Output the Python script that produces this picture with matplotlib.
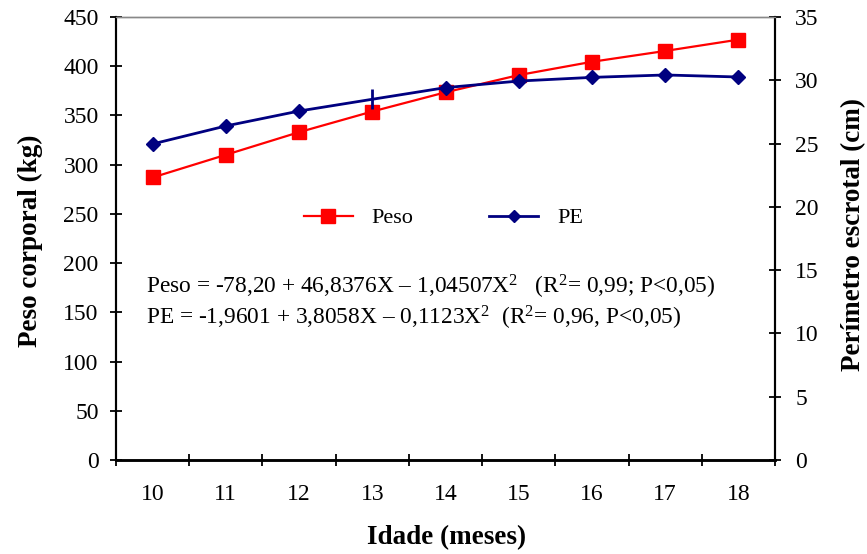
import matplotlib
matplotlib.use("Agg")
import matplotlib.pyplot as plt
import numpy as np

idade = [10, 11, 12, 13, 14, 15, 16, 17, 18]
peso = [287, 310, 333, 354, 373.5, 391, 404.5, 415.5, 427]
pe = [24.97, 26.39, 27.57, 28.5, 29.42, 29.94, 30.23, 30.42, 30.26]
pe_marker = ['D', 'D', 'D', '|', 'D', 'D', 'D', 'D', 'D']
eq_peso = "Peso = -78,20 + 46,8376X – 1,04507X$^{2}$   (R$^{2}$= 0,99; P<0,05)"
eq_pe = "PE = -1,9601 + 3,8058X – 0,1123X$^{2}$  (R$^{2}$= 0,96, P<0,05)"

plt.rcParams['font.family'] = ['Liberation Serif', 'DejaVu Serif']
plt.rcParams['mathtext.fontset'] = 'custom'
plt.rcParams['mathtext.rm'] = 'Liberation Serif'
plt.rcParams['mathtext.it'] = 'Liberation Serif'

RED = '#FF0000'
NAVY = '#000080'

fig = plt.figure(figsize=(8.67, 5.54), dpi=100)
ax = fig.add_axes([116/867, 1-460/554, (775-116)/867, (460-17)/554])
ax2 = ax.twinx()

l1, = ax.plot(idade, peso, color=RED, marker='s', markersize=10, lw=1.6, label='Peso', zorder=3)
ax2.plot(idade, pe, color=NAVY, lw=2.0, zorder=3)
for xv, yv, m in zip(idade, pe, pe_marker):
    if m == '|':
        ax2.plot([xv], [yv], marker='|', color=NAVY, markersize=14, mew=2, zorder=4)
    else:
        ax2.plot([xv], [yv], marker=m, color=NAVY, markersize=7.5, zorder=4)
l2, = ax2.plot([], [], color=NAVY, marker='D', markersize=6.5, lw=2.0, label='PE')

ax.set_xlim(9.5, 18.5)
ax.set_ylim(0, 450)
ax2.set_ylim(0, 35)
ax.set_yticks(np.arange(0, 451, 50))
ax2.set_yticks(np.arange(0, 36, 5))
ax.set_xticks(np.arange(9.5, 18.6, 1))
ax.set_xticklabels([])
ax.set_xticks(idade, minor=True)
ax.set_xticklabels([str(v) for v in idade], minor=True)
ax.tick_params(axis='x', which='minor', length=0, labelsize=17, pad=17)
ax.tick_params(axis='x', which='major', direction='inout', length=9, width=1.3)
ax.tick_params(axis='y', direction='inout', length=9, width=1.3, labelsize=17, pad=8)
ax2.tick_params(axis='y', direction='inout', length=9, width=1.3, labelsize=17, pad=10)

for a in (ax, ax2):
    a.spines['top'].set_color('#888888')
    a.spines['top'].set_linewidth(1.0)
    a.spines['left'].set_linewidth(1.5)
    a.spines['right'].set_linewidth(1.5)
    a.spines['bottom'].set_linewidth(1.8)

ax.set_xlabel('Idade (meses)', fontsize=19.5, fontweight='bold', va='center')
ax.xaxis.set_label_coords((447 - 116) / 659, (460 - 538) / 443)
ax.set_ylabel('Peso corporal (kg)', fontsize=19.5, fontweight='bold', va='center')
ax.yaxis.set_label_coords((30 - 116) / 659, (460 - 241) / 443)
ax2.set_ylabel('Perímetro escrotal (cm)', fontsize=19.5, fontweight='bold', va='center')
ax2.yaxis.set_label_coords((854 - 116) / 659, (460 - 234) / 443)

ax.legend(handles=[l1, l2], loc='center', bbox_to_anchor=(0.497, 0.546), ncol=2,
          frameon=False, fontsize=16, handlelength=2.2, handletextpad=0.85,
          columnspacing=3.4)

ax.text(0.0455, 0.3905, eq_peso, transform=ax.transAxes, fontsize=16.8, va='center', ha='left')
ax.text(0.0455, 0.3205, eq_pe, transform=ax.transAxes, fontsize=16.8, va='center', ha='left')

fig.savefig('out.png', dpi=100)
